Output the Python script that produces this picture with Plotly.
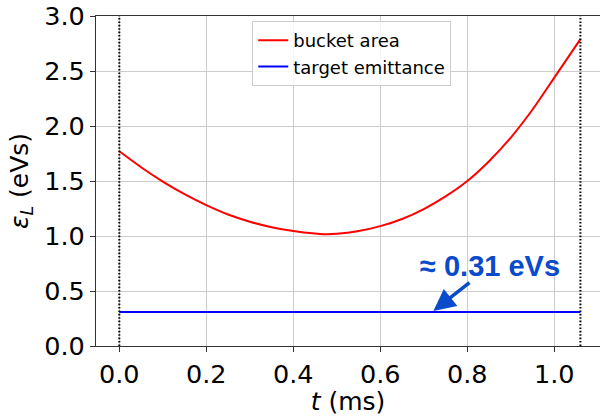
import plotly.graph_objects as go

# data
t_ms = [0.0, 0.05, 0.1, 0.15, 0.2, 0.25, 0.3, 0.35, 0.4, 0.45, 0.47, 0.5, 0.55,
        0.6, 0.65, 0.7, 0.75, 0.8, 0.85, 0.9, 0.95, 1.0, 1.06]
bucket_area = [1.77, 1.625, 1.495, 1.38, 1.28, 1.195, 1.13, 1.08, 1.045, 1.022, 1.017,
               1.02, 1.045, 1.09, 1.155, 1.245, 1.36, 1.50, 1.68, 1.895, 2.15, 2.44, 2.79]
target_emittance = 0.31
annot_text = "≈ 0.31 eVs"
x_ticks = [0.0, 0.2, 0.4, 0.6, 0.8, 1.0]
y_ticks = [0.0, 0.5, 1.0, 1.5, 2.0, 2.5, 3.0]

FONT = "DejaVu Sans"
BLUE_TXT = "#0a4bcc"

fig = go.Figure()
fig.add_trace(go.Scatter(x=t_ms, y=bucket_area, mode="lines", name="bucket area",
                         line=dict(color="#ff0000", width=2, shape="spline", smoothing=0.6)))
fig.add_trace(go.Scatter(x=[t_ms[0], t_ms[-1]], y=[target_emittance, target_emittance],
                         mode="lines", name="target emittance",
                         line=dict(color="#0000ff", width=2)))

for tv in (t_ms[0], t_ms[-1]):
    fig.add_shape(type="line", xref="x", yref="paper", x0=tv, x1=tv, y0=0, y1=1,
                  line=dict(color="black", width=2, dash="1.6px,1.8px"), layer="above")

# label with arrow pointing at the target emittance line
fig.add_annotation(x=0.722, y=target_emittance + 0.008, xref="x", yref="y",
                   text="<b>" + annot_text + "</b>",
                   font=dict(family="Liberation Sans", size=29, color=BLUE_TXT),
                   showarrow=True, arrowhead=2, arrowsize=1.25, arrowwidth=3.5,
                   arrowcolor=BLUE_TXT, ax=57, ay=-45, axref="pixel", ayref="pixel",
                   borderpad=0)

axis_common = dict(showgrid=True, gridcolor="#cccccc", gridwidth=1.2,
                   showline=True, linecolor="#333333", linewidth=1.2,
                   ticks="outside", ticklen=5, tickwidth=1.2, tickcolor="#333333",
                   zeroline=False, tickfont=dict(family=FONT, size=25.5, color="black"))

fig.update_xaxes(range=[-0.0536, 1.105], tickvals=x_ticks,
                 ticktext=[f"{v:.1f}" for v in x_ticks], mirror=True,
                 title=dict(text="<i>t</i> (ms)", font=dict(family=FONT, size=25, color="black"),
                            standoff=4),
                 **axis_common)
fig.update_yaxes(range=[0, 3], tickvals=y_ticks, ticktext=[f"{v:.1f}" for v in y_ticks],
                 title=dict(text="<i>ε</i><sub><i>L</i></sub> (eVs)",
                            font=dict(family=FONT, size=25, color="black"), standoff=8),
                 **axis_common)

fig.update_layout(
    width=600, height=416,
    margin=dict(l=96, r=0, t=16, b=70),
    plot_bgcolor="white", paper_bgcolor="white",
    showlegend=True,
    legend=dict(x=0.31, y=0.985, xanchor="left", yanchor="top",
                bgcolor="rgba(255,255,255,0.8)", bordercolor="#cccccc", borderwidth=1,
                font=dict(family=FONT, size=18, color="black"), itemwidth=30,
                tracegroupgap=0),
)

fig.write_html("out.html")
